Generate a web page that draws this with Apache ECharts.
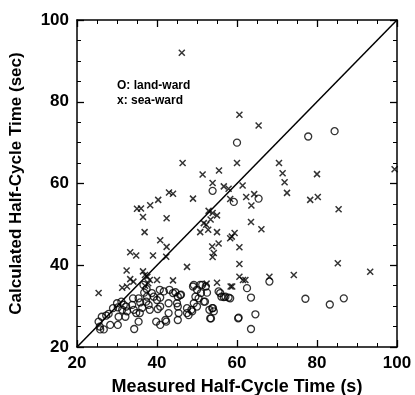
<!DOCTYPE html>
<html>
<head>
    <meta charset="utf-8">
    <title>Half-cycle time</title>
    <script src="https://cdn.jsdelivr.net/npm/echarts@6/dist/echarts.min.js"></script>
    <style>
        body { margin: 0; background: #fff; }
    </style>
</head>
<body>
	<div id="main" style="width: 415px;height:395px;"></div>
	<script type="text/javascript">
	  // measured (x) vs calculated (y) half-cycle times
	  var landWard = [
		[60,70],[77.8,71.5],[84.4,72.8],[65.4,56.3],[59.2,55.5],[53.9,58.2],
		[62.5,34.4],[68.1,36.0],[58.3,31.9],[63.5,32.1],[77.1,31.8],[83.2,30.4],[86.7,31.9],
		[60.4,27.2],[64.6,28.0],[63.5,24.4],[60.3,27.0],
		[25.4,26.2],[25.7,25.0],[25.8,24.3],[26.7,24.3],[26.2,27.4],[27.3,27.7],[28.3,25.4],
		[27.9,28.1],[29,29.5],[30,30.7],[30.2,29.7],[30.4,27.4],[30.2,25.4],[31.1,31.1],
		[31.7,30.3],[31.3,29.1],[32.3,29.9],[32.5,28.7],[32.1,27.4],[33.8,30.3],[34,31.9],
		[34.2,29.1],[34.8,28.3],[34.3,24.4],[35.4,31.9],[35.8,30.9],[36.3,29.6],[35.7,28.3],
		[35.4,26.2],[36.8,33.3],[37.5,32.3],[37.3,31.1],[37.9,30.3],[38.2,29.1],[38.7,33.2],
		[39.2,32.3],[40,31.5],[40.8,32.1],[40.8,29.9],[40.2,29.3],[39.8,26.2],[40.8,25.4],
		[42.3,26.2],[40.7,34],[41.7,33.6],[42.9,30.7],[43.1,34],[44,33.2],[42.9,28.3],
		[44.6,33.4],[45.2,32.3],[45,30.7],[46,32.8],[45.2,29.9],[45.4,28.3],[45.2,26.6],
		[47.5,29.5],[47.9,27.8],[48.6,29.1],[49,34.8],[50,34],[49.6,32.3],[50.4,31.9],
		[49.2,30.7],[50,29.9],[51.3,35.2],[52.2,34.8],[52.5,33.3],[51,33.2],[52,31.1],
		[53.1,29.1],[53.5,27],[54,29.5],[55.4,33.6],[56.1,32.3],[56.7,32.2],[57.9,32.1],
		[37.4,34.2],[36.6,35.2],[45.8,32.7],[42.1,26.6],[47.5,28.3],[48.8,28.7],[51.7,31.1],
		[53.8,29.5],[54.2,28.7],[53.3,27],[55.8,33.2],[57.1,32.3],[49.2,35.2],[50.8,35.2]
	  ];
	  var seaWard = [
		[46.2,92],[60.6,76.8],[65.4,74.2],[46.4,65],[51.4,62.2],[55.5,63.2],[60,65],
		[70.5,65],[71.4,62.5],[80,62.3],[99.4,63.5],[71.9,60.3],[72.5,57.7],[78.3,56],
		[80.2,56.7],[61.4,59.5],[62.3,56.7],[64.3,57.4],[63.6,54.6],[85.4,53.7],[63.5,50.6],
		[66.1,48.8],[59.4,47.9],[58.7,47],[60.6,44.4],[60.6,40.3],[60.6,37.2],[62.1,36.4],
		[58.8,34.8],[68.1,37.2],[74.2,37.6],[85.2,40.5],[93.3,38.4],
		[53.9,60.1],[56.7,59.3],[57.9,58.7],[58.3,56.2],[43.0,57.8],[44,57.5],[49,56.3],
		[40.3,56],[38.3,54.7],[35,53.8],[36,53.9],[36.5,51.8],[42.4,51.5],[52.9,53.3],
		[53.9,52.8],[53.4,51.2],[55,52.2],[51.7,50.3],[52.3,49.9],[55,48.1],[50.8,48.1],
		[52.8,48.7],[36.9,48.1],[40.8,46.1],[42.4,44.5],[33.3,43.2],[34.8,42.4],[39,42.4],
		[42.3,42.1],[53.8,44.6],[55.4,45.3],[54.2,43],[53.9,42],[58.3,46.6],[47.5,39.6],
		[32.4,38.7],[36.5,38.5],[37.6,37.2],[37,37.6],[33.3,36.6],[34.1,36],[40,36.4],
		[44,36.3],[31.3,34.5],[32.5,34.8],[25.4,33.2],[52.4,35.5],[55,35.7],[58.4,34.8],
		[37,35],[37.8,35.6],[38.2,36.4],[61.5,36.4]
	  ];
	  var diagonal = [[20,20],[100,100]];
	  var ticks = [20,40,60,80,100];

	  var myChart = echarts.init(document.getElementById('main'));
	  var font = 'Liberation Sans';
	  function axis(pos, showLabel) {
		return {
		  type: 'value', position: pos, min: 20, max: 100, interval: 20,
		  axisLine: { show: true, onZero: false, lineStyle: { color: '#000', width: 1.5 } },
		  axisTick: { show: true, inside: true, length: 7, lineStyle: { color: '#000', width: 1.3 } },
		  minorTick: { show: true, splitNumber: 4, length: 4, lineStyle: { color: '#000', width: 1 } },
		  splitLine: { show: false },
		  axisLabel: {
			show: showLabel, color: '#000', fontFamily: font, fontWeight: 'bold', fontSize: 17,
			margin: 8,
			formatter: function (v) { return ticks.indexOf(v) >= 0 ? String(v) : ''; }
		  }
		};
	  }
	  var option = {
		animation: false,
		backgroundColor: '#fff',
		grid: { left: 77, right: 18, top: 20, bottom: 48, outerBoundsMode: 'none', containLabel: false },
		xAxis: [
		  Object.assign(axis('bottom', true), {
			name: 'Measured Half-Cycle Time (s)', nameLocation: 'middle', nameGap: 31,
			nameTextStyle: { color: '#000', fontFamily: font, fontWeight: 'bold', fontSize: 18 }
		  }),
		  axis('top', false)
		],
		yAxis: [
		  Object.assign(axis('left', true), {
			name: 'Calculated Half-Cycle Time (sec)', nameLocation: 'middle', nameGap: 52,
			nameTextStyle: { color: '#000', fontFamily: font, fontWeight: 'bold', fontSize: 17 }
		  }),
		  axis('right', false)
		],
		graphic: [
		  { type: 'text', left: 117, top: 78,
			style: { text: 'O: land-ward\nx: sea-ward', fill: '#000', fontFamily: font,
			  fontWeight: 'bold', fontSize: 12, lineHeight: 15 } }
		],
		series: [
		  { type: 'line', data: diagonal, symbol: 'none', lineStyle: { color: '#000', width: 1.5 }, z: 1 },
		  { type: 'scatter', name: 'land-ward', data: landWard, symbol: 'circle', symbolSize: 7,
			itemStyle: { color: 'rgba(0,0,0,0)', borderColor: '#000', borderWidth: 1.3 } },
		  { type: 'scatter', name: 'sea-ward', data: seaWard,
			symbol: 'path://M0,0L10,10M10,0L0,10', symbolSize: 6,
			itemStyle: { color: 'none', borderColor: '#000', borderWidth: 1.5 } }
		]
	  };
	  myChart.setOption(option);
	</script>
</body>
</html>
